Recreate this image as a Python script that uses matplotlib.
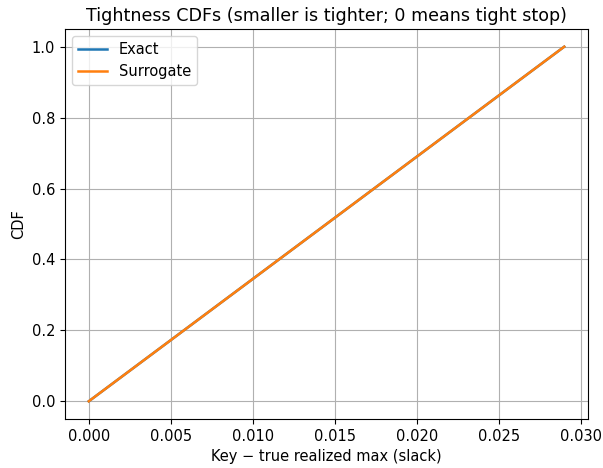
import matplotlib
matplotlib.use("Agg")
import matplotlib.pyplot as plt

# slack values (sorted) and their empirical CDF
exact_slack = [0.0, 0.0145, 0.029]
exact_cdf = [0.0, 0.5, 1.0]
surrogate_slack = [0.0, 0.0145, 0.029]
surrogate_cdf = [0.0, 0.5, 1.0]

plt.rcParams["font.size"] = 10.5

fig = plt.figure(figsize=(6.03, 4.68), dpi=100)
ax = fig.add_axes([65 / 603, 1 - 419 / 468, (588 - 65) / 603, (419 - 29) / 468])

ax.plot(exact_slack, exact_cdf, label="Exact", linewidth=1.8)
ax.plot(surrogate_slack, surrogate_cdf, label="Surrogate", linewidth=1.8)

ax.set_xlabel("Key \u2212 true realized max (slack)")
ax.set_ylabel("CDF")
ax.set_title("Tightness CDFs (smaller is tighter; 0 means tight stop)", fontsize=12.6)
ax.grid(True)
ax.legend(loc="upper left")

fig.savefig("out.png", dpi=100)
